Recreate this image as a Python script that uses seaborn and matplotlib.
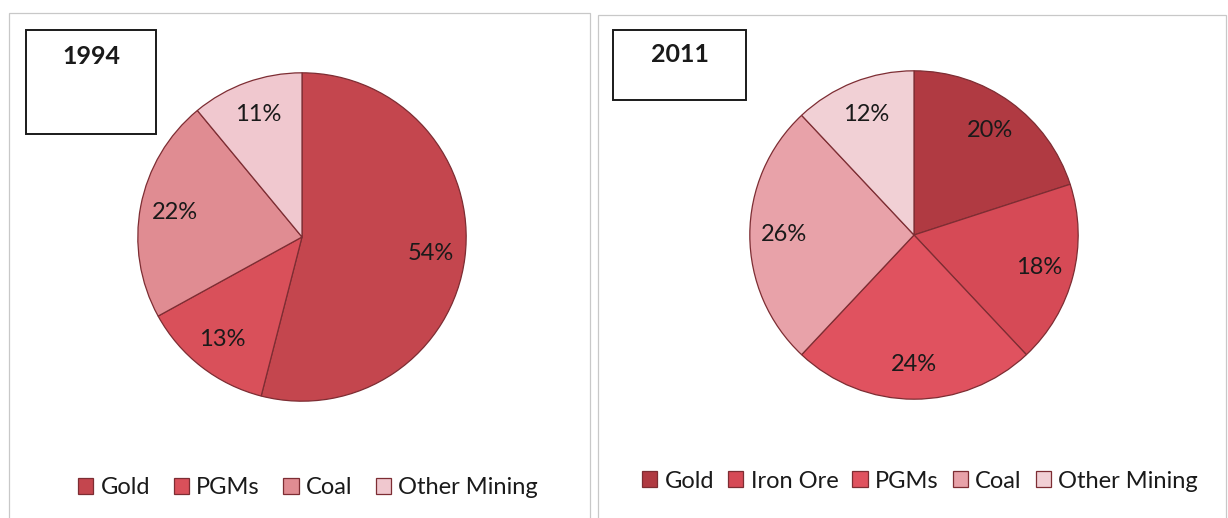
import matplotlib
matplotlib.use("Agg")
import matplotlib.pyplot as plt
from matplotlib.patches import Rectangle
import seaborn as sns

# ---- data ----
years = ["1994", "2011"]
cats_1994 = ["Gold", "PGMs", "Coal", "Other Mining"]
vals_1994 = [54, 13, 22, 11]
cats_2011 = ["Gold", "Iron Ore", "PGMs", "Coal", "Other Mining"]
vals_2011 = [20, 18, 24, 26, 12]

colors_1994 = ["#c4464e", "#d9505a", "#e08c92", "#f0c8cf"]
colors_2011 = ["#b03a42", "#d64a56", "#e0525f", "#e8a2a9", "#f1d0d5"]

sns.set_theme(style="white")
plt.rcParams["font.family"] = ["Lato", "DejaVu Sans"]

W, H = 1228, 518
fig = plt.figure(figsize=(W / 100, H / 100), dpi=100)
fig.patch.set_facecolor("white")


def fx(px):
    return px / W


def fy(py):
    return 1 - py / H


# panel borders
for (x0, x1, y0) in [(9, 590, 13), (598, 1226, 15)]:
    fig.patches.append(Rectangle((fx(x0), fy(H + 5)), fx(x1 - x0), (H + 5 - y0) / H,
                                 transform=fig.transFigure, fill=False,
                                 edgecolor="#c8c8c8", linewidth=0.9))

panels = [
    dict(year=years[0], cats=cats_1994, vals=vals_1994, cols=colors_1994,
         center=(302, 237), box=(26, 30, 156, 134), ty=57, leg=(308, 488)),
    dict(year=years[1], cats=cats_2011, vals=vals_2011, cols=colors_2011,
         center=(914, 235), box=(613, 30, 746, 100), ty=55, leg=(920, 481)),
]

R = 165
for p in panels:
    cx, cy = p["center"]
    ax = fig.add_axes([fx(cx - R), fy(cy + R), fx(2 * R), 2 * R / H])
    wedges, texts, autotexts = ax.pie(
        p["vals"], colors=p["cols"], startangle=90, counterclock=False,
        autopct="%.0f%%", pctdistance=0.79,
        wedgeprops=dict(edgecolor="#7d2d33", linewidth=0.9),
        textprops=dict(fontsize=17, color="#1a1a1a"))
    ax.set_xlim(-1.005, 1.005)
    ax.set_ylim(-1.005, 1.005)
    ax.set_aspect("equal")
    ax.axis("off")

    bx0, by0, bx1, by1 = p["box"]
    fig.patches.append(Rectangle((fx(bx0), fy(by1)), fx(bx1 - bx0), (by1 - by0) / H,
                                 transform=fig.transFigure, fill=False,
                                 edgecolor="#1a1a1a", linewidth=1.4))
    fig.text(fx((bx0 + bx1) / 2), fy(p["ty"]), p["year"], ha="center", va="center",
             fontsize=18, fontweight="bold", color="#1a1a1a")

    lx, ly = p["leg"]
    fig.legend(wedges, p["cats"], loc="center", bbox_to_anchor=(fx(lx), fy(ly)),
               ncol=len(p["cats"]), frameon=False, fontsize=17,
               handlelength=0.65, handleheight=0.65, handletextpad=0.3,
               columnspacing=1.0 if len(p["cats"]) == 4 else 0.6,
               labelcolor="#1a1a1a")

fig.savefig("out.png", dpi=100, facecolor="white")
